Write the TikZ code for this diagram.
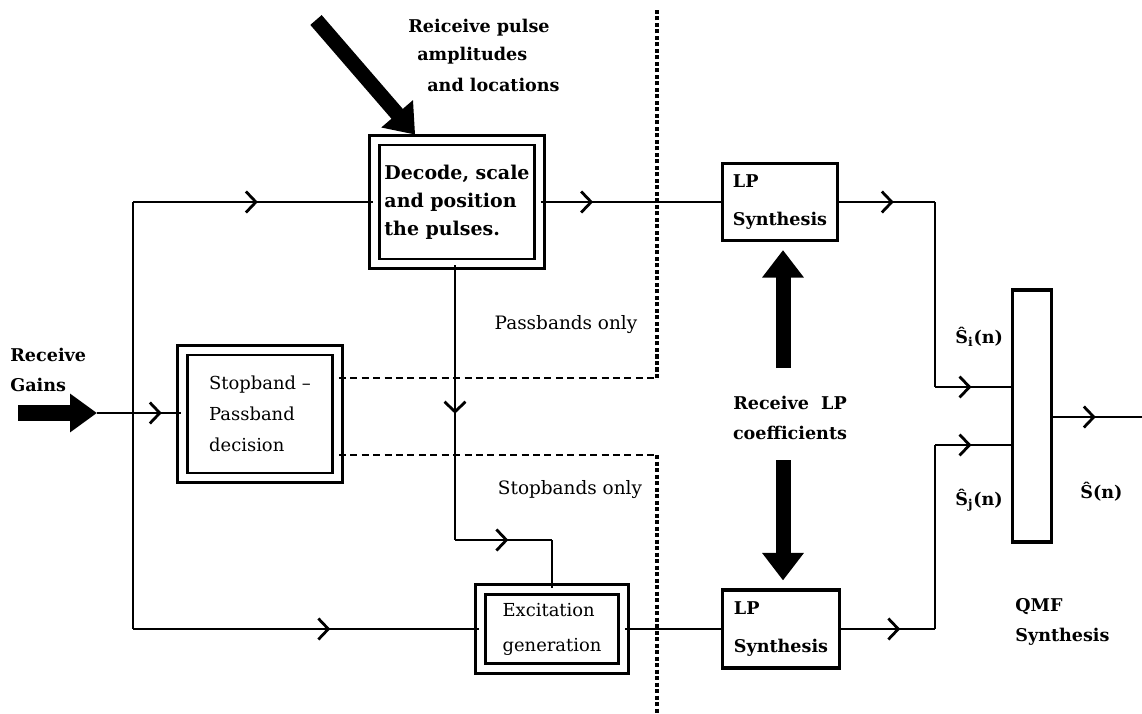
\documentclass[tikz,border=0pt]{standalone}
\usepackage{fontspec}
\setmainfont{DejaVu Serif}
\usetikzlibrary{arrows.meta,decorations.markings,calc}
\tikzset{
  flow/.style={line width=1.6pt},
  chev/.style={postaction={decorate},decoration={markings,mark=at position #1 with {\arrow{Straight Barb[length=2mm,width=4.2mm]}}}},
  dblbox/.style={draw, double, line width=1.6pt, double distance=1.4mm, align=left, inner sep=0pt},
  box/.style={draw, line width=1.8pt, align=left, inner sep=0pt},
  fat/.style={line width=3mm, -{Triangle[length=5.5mm,width=8mm]}},
  sep/.style={line width=1.5pt, dash pattern=on 4pt off 2.5pt},
  dots/.style={line width=2pt, dash pattern=on 2.5pt off 1.2pt},
  txt/.style={align=left, inner sep=0pt, font=\fontsize{10}{17}\selectfont},
  btxt/.style={txt, font=\fontsize{10}{17}\selectfont\bfseries},
}
\begin{document}
\begin{tikzpicture}[x=0.02cm, y=-0.02cm]
  \useasboundingbox (0,0) rectangle (1142,713);

  % blocks
  \node[dblbox, minimum width=3.1cm, minimum height=2.56cm, font=\fontsize{10.2}{17.5}\selectfont] (stop) at (260,414) {Stopband --\\Passband\\decision};
  \node[dblbox, minimum width=3.3cm, minimum height=2.48cm, font=\fontsize{10.8}{16}\selectfont\bfseries] (dec) at (457,202) {Decode, scale\\and position\\the pulses.};
  \node[dblbox, minimum width=2.86cm, minimum height=1.58cm, font=\fontsize{10.2}{20}\selectfont] (exc) at (552,629) {Excitation\\generation};
  \node[box, minimum width=2.3cm, minimum height=1.54cm, font=\fontsize{10}{22}\selectfont\bfseries] (lpa) at (780,202) {LP\\Synthesis};
  \node[box, minimum width=2.34cm, minimum height=1.56cm, font=\fontsize{10}{22}\selectfont\bfseries] (lpb) at (781,629) {LP\\Synthesis};
  \node[box, minimum width=0.78cm, minimum height=5.04cm] (qmf) at (1032,416) {};

  % input side
  \coordinate (gin) at (18,413);
  \coordinate (gtip) at (97,413);
  \coordinate (bt) at (133,202);
  \coordinate (bb) at (133,629);
  \draw[fat, line width=3.2mm, -{Triangle[length=5.4mm,width=7.4mm]}] (gin) -- (gtip);
  \draw[flow, chev=.77] (gtip) -- (gtip -| stop.west);
  \draw[flow] (bt) -- (bb);
  \draw[flow, chev=.52] (bt) -- (dec.west);
  \draw[flow, chev=.57] (bb) -- (exc.west);

  % pulse path
  \coordinate (pa) at (455,540);
  \draw[flow, chev=.54] (dec.south -| pa) -- (pa);
  \draw[flow, chev=.55] (pa) -- (pa -| exc.north);
  \draw[flow] (pa -| exc.north) -- (exc.north);
  \draw[fat] (316,20) -- ($(dec.north west)+(42,-4)$);

  % to the synthesis filters
  \coordinate (ca) at (935,202);
  \coordinate (cai) at (935,387);
  \coordinate (cb) at (935,629);
  \coordinate (cbj) at (935,445);
  \coordinate (out) at (1142,417);
  \draw[flow, chev=.29] (dec.east) -- (lpa.west);
  \draw[flow] (exc.east) -- (lpb.west);
  \draw[flow, chev=.57] (lpa.east) -- (ca);
  \draw[flow] (ca) -- (cai);
  \draw[flow, chev=.48] (cai) -- (cai -| qmf.west);
  \draw[flow, chev=.63] (lpb.east) -- (cb);
  \draw[flow] (cb) -- (cbj);
  \draw[flow, chev=.48] (cbj) -- (cbj -| qmf.west);
  \draw[flow, chev=.48] (qmf.east |- out) -- (out);
  \draw[fat] (783,368) -- ($(lpa.south)+(3,8)$);
  \draw[fat] (783,460) -- ($(lpb.north)+(2,-8)$);

  % band switches
  \coordinate (sw1) at (657,378);
  \coordinate (sw2) at (657,455);
  \draw[sep] (sw1 -| stop.east) -- (sw1);
  \draw[sep] (sw2 -| stop.east) -- (sw2);
  \draw[dots] (sw1) -- (657,10);
  \draw[dots] (sw2) -- (657,713);

  % labels
  \node[btxt, anchor=west] (gains) at (10,370) {Receive\\Gains};
  \node[btxt, anchor=west] (pul1) at (408,28) {Reiceive pulse};
  \node[btxt, anchor=west] (pul2) at (417,56) {amplitudes};
  \node[btxt, anchor=west] (pul3) at (427,85) {and locations};
  \node[txt, font=\fontsize{10.5}{17}\selectfont] (pass) at (566,325) {Passbands only};
  \node[txt, font=\fontsize{10.5}{17}\selectfont] (stops) at (570,490) {Stopbands only};
  \node[btxt, align=center] (coef) at (790,418) {Receive\ \ LP\\coefficients};
  \node[btxt, anchor=west] (qmft) at (1015,622) {QMF\\Synthesis};
  \node[btxt, anchor=west] (si) at (955,337) {\^S\textsubscript{i}(n)};
  \node[btxt, anchor=west] (sj) at (955,500) {\^S\textsubscript{j}(n)};
  \node[btxt, anchor=west] (sn) at (1080,492) {\^S(n)};
\end{tikzpicture}
\end{document}
